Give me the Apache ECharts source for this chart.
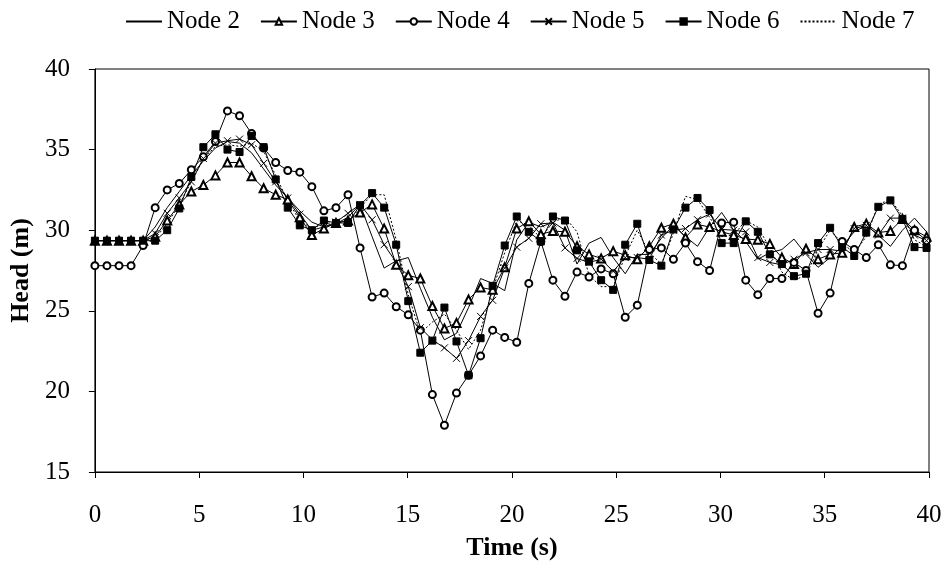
<!DOCTYPE html>
<html>
<head>
<meta charset="utf-8">
<title>Head vs Time</title>
<script src="https://cdn.jsdelivr.net/npm/echarts@6/dist/echarts.min.js"></script>
<style>
  html, body { margin: 0; padding: 0; background: #fff; }
  #chart { width: 948px; height: 576px; }
</style>
</head>
<body>
<div id="chart"></div>
<script>
// 时间 (s)
var time = [0, 0.578, 1.156, 1.734, 2.312, 2.89, 3.468, 4.046, 4.624, 5.202,
  5.78, 6.358, 6.936, 7.514, 8.092, 8.67, 9.248, 9.826, 10.404, 10.982,
  11.56, 12.138, 12.716, 13.294, 13.872, 14.45, 15.028, 15.606, 16.184, 16.762,
  17.34, 17.918, 18.496, 19.074, 19.652, 20.23, 20.808, 21.386, 21.964, 22.542,
  23.12, 23.698, 24.276, 24.854, 25.432, 26.01, 26.588, 27.166, 27.744, 28.322,
  28.9, 29.478, 30.056, 30.634, 31.212, 31.79, 32.368, 32.946, 33.524, 34.102,
  34.68, 35.258, 35.836, 36.414, 36.992, 37.57, 38.148, 38.726, 39.304, 39.882];

// 各节点水头 (m)
var node2 = [29.35, 29.35, 29.35, 29.35, 29.35, 30.2, 31.4, 32.4, 33.4, 34.3,
  35.1, 35.5, 35.4, 34.8, 33.8, 32.8, 32.0, 31.2, 30.5, 30.2,
  30.4, 30.8, 31.6, 29.6, 27.65, 28.1, 28.3, 26.4, 24.6, 23.2,
  23.6, 25.2, 27.0, 26.7, 26.25, 29.4, 30.5, 30.2, 30.5, 30.0,
  27.9, 29.2, 29.55, 28.3, 27.3, 28.5, 28.5, 29.5, 30.3, 29.6,
  29.0, 30.2, 31.1, 30.0, 29.3, 28.2, 28.6, 28.8, 29.45, 28.5,
  27.7, 28.3, 29.0, 29.9, 30.3, 29.7, 29.0, 30.0, 30.75, 29.9];
var node3 = [29.35, 29.35, 29.35, 29.35, 29.35, 29.6, 30.6, 31.6, 32.4, 32.8,
  33.4, 34.2, 34.2, 33.35, 32.6, 32.2, 31.9, 30.8, 29.7, 30.1,
  30.45, 30.6, 31.1, 31.6, 30.1, 27.85, 27.2, 27.0, 25.3, 23.9,
  24.25, 25.7, 26.45, 26.3, 27.7, 30.1, 30.55, 29.75, 29.95, 29.9,
  29.0, 28.5, 28.25, 28.7, 28.45, 28.2, 29.0, 30.15, 30.4, 29.55,
  30.35, 30.2, 29.9, 29.7, 29.45, 29.4, 29.15, 28.3, 27.9, 28.85,
  28.2, 28.5, 28.6, 30.2, 30.4, 29.85, 29.95, 30.7, 30.0, 29.6];
var node4 = [27.8, 27.8, 27.8, 27.8, 29.05, 31.4, 32.5, 32.9, 33.75, 34.55,
  35.5, 37.4, 37.1, 36.0, 35.1, 34.2, 33.7, 33.6, 32.7, 31.2,
  31.4, 32.2, 28.9, 25.85, 26.1, 25.25, 24.75, 23.8, 19.8, 17.9,
  19.9, 21.0, 22.2, 23.8, 23.35, 23.05, 26.7, 29.3, 26.9, 25.9,
  27.4, 27.1, 27.6, 27.3, 24.6, 25.35, 28.8, 28.9, 28.2, 29.2,
  28.05, 27.5, 30.45, 30.5, 26.9, 26.0, 27.0, 27.0, 28.0, 27.5,
  24.85, 26.1, 29.3, 28.8, 28.3, 29.1, 27.85, 27.8, 30.0, 29.35];
var node5 = [29.35, 29.35, 29.35, 29.35, 29.35, 29.8, 31.05, 32.0, 33.0, 34.45,
  35.4, 35.55, 35.65, 35.3, 34.15, 33.0, 32.0, 31.0, 30.0, 30.2,
  30.5, 31.05, 31.6, 30.65, 29.1, 28.0, 26.5, 23.95, 23.2, 22.7,
  22.05, 23.15, 24.65, 25.65, 27.65, 28.95, 29.5, 30.4, 30.45, 28.9,
  28.25, 28.0, 28.2, 27.45, 28.3, 28.3, 28.2, 29.7, 30.0, 30.1,
  30.65, 31.0, 30.05, 30.0, 29.9, 28.3, 28.0, 27.85, 28.2, 28.6,
  28.8, 28.8, 28.7, 30.1, 30.3, 29.7, 30.75, 30.75, 29.7, 29.35];
var node6 = [29.35, 29.35, 29.35, 29.35, 29.35, 29.35, 30.0, 31.35, 33.3, 35.15,
  35.95, 35.0, 34.85, 35.85, 35.15, 33.15, 31.4, 30.3, 30.0, 30.6,
  30.45, 30.45, 31.55, 32.3, 31.4, 29.1, 25.6, 22.4, 23.15, 25.2,
  23.1, 21.0, 23.3, 26.55, 29.05, 30.85, 29.9, 29.3, 30.85, 30.6,
  28.75, 28.05, 26.9, 26.3, 29.1, 30.4, 28.15, 27.8, 30.05, 31.4,
  32.0, 31.25, 29.2, 29.2, 30.55, 29.9, 28.5, 27.9, 27.15, 27.3,
  29.2, 30.15, 28.95, 28.4, 29.85, 31.45, 31.85, 30.7, 28.95, 28.9];
var node7 = [29.35, 29.35, 29.35, 29.35, 29.35, 29.5, 30.4, 31.6, 33.0, 34.4,
  35.2, 35.3, 35.2, 35.4, 34.9, 33.4, 31.8, 30.6, 30.1, 30.4,
  30.5, 30.5, 31.4, 32.2, 32.2, 29.4, 26.0, 23.6, 24.3, 24.8,
  23.8, 22.6, 23.8, 26.3, 28.6, 30.6, 30.3, 29.5, 30.5, 30.8,
  29.9, 27.2, 26.5, 26.5, 28.4, 30.0, 28.6, 27.9, 29.8, 32.1,
  31.9, 30.8, 29.6, 29.7, 30.6, 30.2, 28.9, 27.4, 26.9, 27.2,
  28.8, 30.0, 29.2, 28.6, 29.6, 31.6, 31.9, 30.9, 29.4, 29.0];

var names = ['Node 2', 'Node 3', 'Node 4', 'Node 5', 'Node 6', 'Node 7'];
var xTicks = [0, 5, 10, 15, 20, 25, 30, 35, 40];
var yTicks = [15, 20, 25, 30, 35, 40];

var font = '"Liberation Serif", "Times New Roman", serif';

function pairs(vals) {
  return vals.map(function (v, i) { return [time[i], v]; });
}

// 系列样式, symbol 为 null 时不画标记 (图例里也只留线)
function makeSeries(name, vals, symbol, size, dotted) {
  var s = {
    name: name,
    type: 'line',
    data: pairs(vals),
    symbol: symbol || 'circle',
    symbolSize: size,
    showSymbol: !!symbol,
    lineStyle: { color: '#000', width: 1, type: dotted ? [2, 2] : 'solid' },
    itemStyle: { color: '#000', borderColor: '#000', borderWidth: 1 },
    emphasis: { disabled: true },
    animation: false
  };
  if (!symbol) {
    s.itemStyle = { color: 'transparent', borderColor: 'transparent', borderWidth: 0 };
  }
  return s;
}

var chart = echarts.init(document.getElementById('chart'));
var option = {
  backgroundColor: '#fff',
  textStyle: { fontFamily: font, color: '#000' },
  legend: {
    top: 4,
    left: 120,
    itemWidth: 36,
    itemHeight: 8,
    itemGap: 20,
    data: names,
    textStyle: { fontFamily: font, fontSize: 25, color: '#000' }
  },
  grid: {
    left: 94, right: 19, top: 69, bottom: 104,
    show: true, borderColor: '#000', borderWidth: 1
  },
  xAxis: {
    type: 'value',
    min: xTicks[0], max: xTicks[xTicks.length - 1], interval: 5,
    name: 'Time (s)',
    nameLocation: 'middle',
    nameGap: 63,
    nameTextStyle: { fontFamily: font, fontSize: 26, fontWeight: 'bold', color: '#000' },
    axisLine: { lineStyle: { color: '#000', width: 1 } },
    axisTick: { inside: false, length: 6, lineStyle: { color: '#000' } },
    axisLabel: { fontFamily: font, fontSize: 25, color: '#000', margin: 31 },
    splitLine: { show: false }
  },
  yAxis: {
    type: 'value',
    min: yTicks[0], max: yTicks[yTicks.length - 1], interval: 5,
    name: 'Head (m)',
    nameLocation: 'middle',
    nameGap: 54,
    nameTextStyle: { fontFamily: font, fontSize: 26, fontWeight: 'bold', color: '#000' },
    axisLine: { show: true, lineStyle: { color: '#000', width: 1 } },
    axisTick: { show: true, inside: false, length: 6, lineStyle: { color: '#000' } },
    axisLabel: { fontFamily: font, fontSize: 25, color: '#000', margin: 25 },
    splitLine: { show: false }
  },
  series: [
    makeSeries(names[0], node2, null, 0, false),
    makeSeries(names[1], node3, 'emptyTriangle', 8, false),
    makeSeries(names[2], node4, 'emptyCircle', 7, false),
    makeSeries(names[3], node5, 'path://M0,0L10,10M10,0L0,10', 7, false),
    makeSeries(names[4], node6, 'rect', 7, false),
    makeSeries(names[5], node7, null, 0, true)
  ]
};
chart.setOption(option);
</script>
</body>
</html>
